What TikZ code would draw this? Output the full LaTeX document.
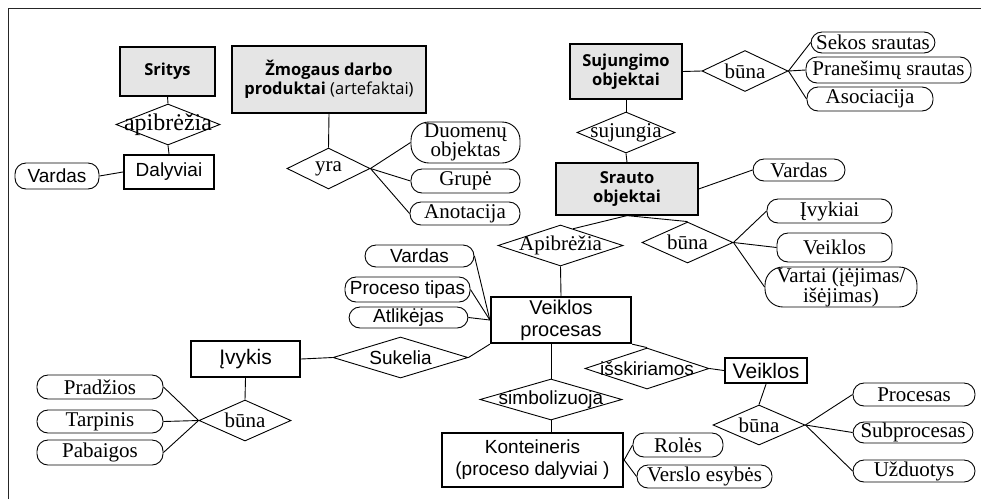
\documentclass[tikz,border=0pt]{standalone}
\usepackage{fontspec}
\setmainfont{Liberation Serif}
\setsansfont{Liberation Sans}
\newfontfamily\hdrfont{Open Sans}
\usetikzlibrary{calc, positioning}
\usetikzlibrary{shapes.geometric}
\newcommand\srf{\rmfamily\fontsize{21}{19}\selectfont}
\newcommand\ssf{\sffamily\fontsize{19}{21}\selectfont}
\newcommand\hdf{\hdrfont\bfseries\fontsize{16.5}{18.5}\selectfont}
\def\dh{41pt}
\tikzset{
    group/.style = {
        draw, rectangle, fill=black!10, line width=1.2pt, inner sep=0pt, align=center, font=\hdf
    },
    entity/.style = {
        draw, rectangle, line width=2.3pt, inner sep=0pt, align=center, font=\ssf
    },
    attr/.style = {
        draw, rectangle, rounded corners=11pt, line width=0.9pt, inner sep=0pt, align=center, font=\srf
    },
    rel/.style = {
        draw, diamond, line width=0.9pt, inner sep=0pt, minimum height=\dh, label={[font=\srf]center:#1}
    },
    relsf/.style = {
        draw, diamond, line width=0.9pt, inner sep=0pt, minimum height=\dh, label={[font=\ssf]center:#1}
    },
    link/.style = {line width=0.9pt},
}

\begin{document}
\begin{tikzpicture}[x=1pt, y=-1pt]
        \useasboundingbox (0,0) rectangle (981,499);
        \draw[line width=0.9pt, black!85] (8,499) -- (8,8) -- (981,8);

        % Place the blocks
        \node[group, minimum width=95pt, minimum height=49pt] (sritys) at (167.5,71.5) {Sritys};
        \node[group, minimum width=194pt, minimum height=67pt] (zmog) at (329,79.5) {Žmogaus darbo\\produktai {\mdseries(artefaktai)}};
        \node[group, minimum width=112pt, minimum height=55pt] (sujung) at (626,71.5) {Sujungimo\\objektai};
        \node[group, minimum width=142pt, minimum height=52pt] (srauto) at (627,189) {Srauto\\objektai};

        \node[entity, minimum width=90pt, minimum height=34pt] (dal) at (169,172) {Dalyviai};
        \node[entity, minimum width=140pt, minimum height=46pt, font=\sffamily\fontsize{20}{22}\selectfont] (vp) at (561,320) {Veiklos\\procesas};
        \node[entity, minimum width=109pt, minimum height=36pt, font=\sffamily\fontsize{21}{22}\selectfont] (ivyk) at (245.5,359) {Įvykis};
        \node[entity, minimum width=82pt, minimum height=25pt, font=\sffamily\fontsize{21}{22}\selectfont] (veik) at (766,370.5) {Veiklos};
        \node[entity, minimum width=181pt, minimum height=54pt, font=\sffamily\fontsize{19}{22}\selectfont] (kont) at (532.5,460) {Konteineris\\(proceso dalyviai )};

        % Attributes
        \node[attr, font=\ssf, minimum width=84pt, minimum height=26pt] (vard1) at (57,176) {Vardas};
        \node[attr, rounded corners=18pt, minimum width=109pt, minimum height=41pt] (duom) at (465.5,142.5) {Duomenų\\objektas};
        \node[attr, minimum width=109pt, minimum height=24pt] (grupe) at (465.5,181) {Grupė};
        \node[attr, minimum width=110pt, minimum height=23pt] (anot) at (465,213.5) {Anotacija};
        \node[attr, minimum width=124pt, minimum height=21pt] (sekos) at (873,42.5) {Sekos srautas};
        \node[attr, minimum width=165pt, minimum height=26pt] (pran) at (888.5,70) {Pranešimų srautas};
        \node[attr, minimum width=126pt, minimum height=24pt] (asoc) at (870,99) {Asociacija};
        \node[attr, minimum width=92pt, minimum height=22pt] (vard3) at (799,170) {Vardas};
        \node[attr, minimum width=125pt, minimum height=24pt] (ivykiai) at (829.5,211) {Įvykiai};
        \node[attr, minimum width=115pt, minimum height=29pt] (veikl2) at (834.5,247.5) {Veiklos};
        \node[attr, rounded corners=18pt, minimum width=152pt, minimum height=40pt] (vartai) at (841,287) {Vartai (įėjimas/\\išėjimas)};
        \node[attr, font=\ssf, minimum width=109pt, minimum height=22pt] (vard2) at (419.5,256) {Vardas};
        \node[attr, font=\ssf, minimum width=125pt, minimum height=25pt] (tipas) at (407.5,289.5) {Proceso tipas};
        \node[attr, font=\ssf, minimum width=119pt, minimum height=21pt] (atlik) at (408.5,317.5) {Atlikėjas};
        \node[attr, minimum width=126pt, minimum height=24pt] (pradz) at (100,387) {Pradžios};
        \node[attr, minimum width=126pt, minimum height=23pt] (tarp) at (100,421.5) {Tarpinis};
        \node[attr, minimum width=126pt, minimum height=25pt] (pabaig) at (100,452.5) {Pabaigos};
        \node[attr, minimum width=90pt, minimum height=24pt] (roles) at (678,445) {Rolės};
        \node[attr, minimum width=135pt, minimum height=23pt] (verslo) at (704.5,476.5) {Verslo esybės};
        \node[attr, minimum width=122pt, minimum height=23pt] (proc) at (914,394.5) {Procesas};
        \node[attr, minimum width=120pt, minimum height=21pt] (subp) at (913,432.5) {Subprocesas};
        \node[attr, minimum width=122pt, minimum height=22pt] (uzd) at (914,471) {Užduotys};

        % Relations
        \node[draw, diamond, line width=0.9pt, inner sep=0pt, minimum width=104pt, minimum height=\dh,
              label={[font=\rmfamily\fontsize{24}{24}\selectfont]center:apibrėžia}] (apib1) at (168,124.5) {};
        \node[rel=yra, minimum width=83pt] (yra) at (328.5,168.5) {};
        \node[rel=sujungia, minimum width=98pt] (sujungia) at (626,132.5) {};
        \node[rel=būna, minimum width=86pt] (buna1) at (745,71) {};
        \node[rel=Apibrėžia, minimum width=125pt] (apib2) at (560.5,245.5) {};
        \node[rel=būna, minimum width=91pt] (buna2) at (687.5,242.5) {};
        \node[relsf=Sukelia, minimum width=135pt] (sukel) at (400.5,357.5) {};
        \node[rel=būna, minimum width=92pt] (buna4) at (245,420.5) {};
        \node[relsf=simbolizuoja, minimum width=142pt] (simb) at (551,399.5) {};
        \node[relsf=išskiriamos, minimum width=124pt] (isk) at (647,368.5) {};
        \node[rel=būna, minimum width=92pt, minimum height=40pt] (buna3) at (759,425) {};

        % Draw connections
        \begin{scope}[link]
            \draw (sritys.south) -- (apib1.north);
            \draw (apib1.south) -- (dal.north);
            \draw (vard1.east) -- (dal.west);
            \draw (zmog.south) -- (yra.north);
            \foreach \n in {duom, grupe, anot} \draw (yra.east) -- (\n.west);
            \draw (sujung.south) -- (sujungia.north);
            \draw (sujungia.south) -- (srauto.north);
            \draw (sujung.east) -- (buna1.west);
            \foreach \n in {sekos, pran, asoc} \draw (buna1.east) -- (\n.west);
            \draw (srauto.east) -- (vard3.west);
            \draw (srauto.south) -- ($(apib2.north)!0.2!(apib2.east)$);
            \draw (srauto.south) -- (buna2.north);
            \foreach \n in {ivykiai, veikl2, vartai} \draw (buna2.east) -- (\n.west);
            \draw (apib2.south) -- (vp.north);
            \foreach \n in {vard2, tipas, atlik} \draw (\n.east) -- (vp.west);
            \draw (ivyk.east) -- (sukel.west);
            \draw (sukel.east) -- (vp.south west);
            \draw (ivyk.south) -- (buna4.north);
            \foreach \n in {pradz, tarp, pabaig} \draw (buna4.west) -- (\n.east);
            \draw (vp.south east) -- (isk.north);
            \draw (isk.east) -- (veik.west);
            \draw (veik.south) -- (buna3.north);
            \foreach \n in {proc, subp, uzd} \draw (buna3.east) -- (\n.west);
            \draw (simb.north) -- (simb.north |- vp.south);
            \draw (simb.south) -- (simb.south |- kont.north);
            \foreach \n in {roles, verslo} \draw (kont.east) -- (\n.west);
        \end{scope}
\end{tikzpicture}
\end{document}
